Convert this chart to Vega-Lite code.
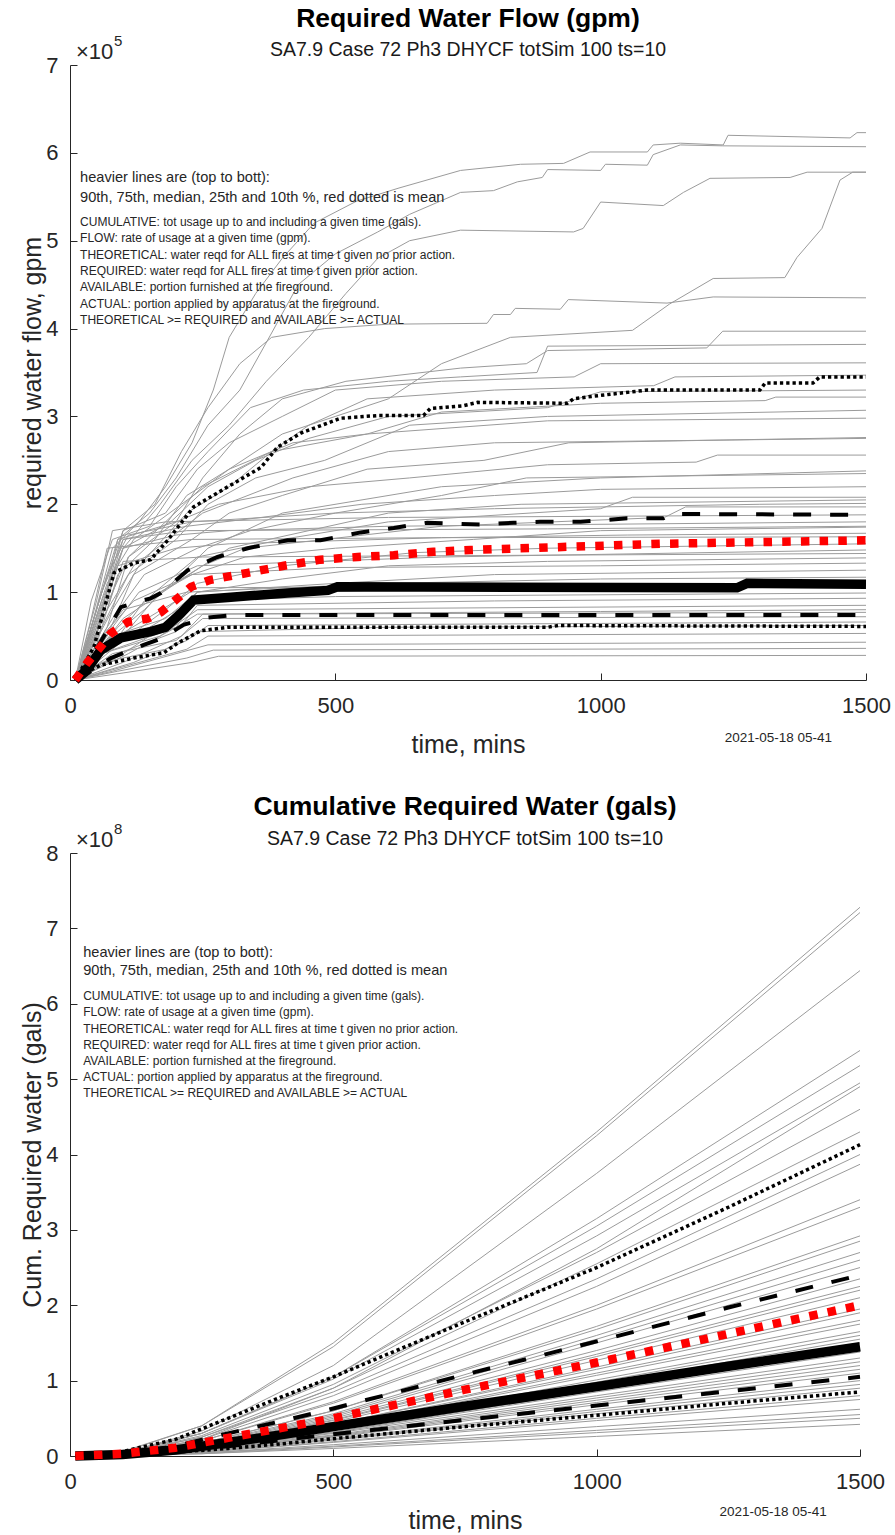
{
"$schema": "https://vega.github.io/schema/vega-lite/v6.json",
"autosize": {"type": "pad"},
"padding": {"left": 20, "top": 6, "right": 0, "bottom": 0},
"background": "white",
"bounds": "flush",
"spacing": 173,
"config": {
  "font": "Liberation Sans",
  "view": {"stroke": null},
  "axis": {"grid": false, "domainColor": "#262626", "tickColor": "#262626", "labelColor": "#262626", "titleColor": "#262626", "labelFont": "Liberation Sans", "titleFont": "Liberation Sans", "labelFontSize": 22, "titleFontSize": 25, "titleFontWeight": "normal", "tickSize": -7, "domainWidth": 1, "tickWidth": 1, "labelFlush": false, "labelOverlap": false},
  "axisX": {"labelPadding": 22, "titlePadding": 16},
  "axisY": {"labelPadding": 19, "titlePadding": 1, "minExtent": 24, "maxExtent": 24}
},
"datasets": {
"flowG": [
{"s":"A","t":10,"v":0},{"s":"A","t":40,"v":0.6e5},{"s":"A","t":80,"v":1.5e5},{"s":"A","t":130,"v":1.8e5},{"s":"A","t":180,"v":2.2e5},{"s":"A","t":230,"v":2.7e5},{"s":"A","t":270,"v":3.3e5},{"s":"A","t":300,"v":3.9e5},{"s":"A","t":350,"v":4.4e5},{"s":"A","t":400,"v":4.8e5},{"s":"A","t":460,"v":5.2e5},{"s":"A","t":540,"v":5.45e5},{"s":"A","t":620,"v":5.6e5},{"s":"A","t":736,"v":5.8e5},{"s":"A","t":849,"v":5.87e5},{"s":"A","t":930,"v":5.88e5},{"s":"A","t":980,"v":6.01e5},{"s":"A","t":1088,"v":6.01e5},{"s":"A","t":1099,"v":6.09e5},{"s":"A","t":1150,"v":6.11e5},{"s":"A","t":1231,"v":6.09e5},{"s":"A","t":1240,"v":6.2e5},{"s":"A","t":1470,"v":6.17e5},{"s":"A","t":1483,"v":6.23e5},{"s":"A","t":1500,"v":6.23e5},
{"s":"B","t":10,"v":0},{"s":"B","t":50,"v":0.5e5},{"s":"B","t":90,"v":1.6e5},{"s":"B","t":150,"v":1.9e5},{"s":"B","t":200,"v":2.3e5},{"s":"B","t":260,"v":2.9e5},{"s":"B","t":320,"v":3.3e5},{"s":"B","t":380,"v":3.95e5},{"s":"B","t":430,"v":4.5e5},{"s":"B","t":500,"v":4.85e5},{"s":"B","t":580,"v":5.1e5},{"s":"B","t":640,"v":5.3e5},{"s":"B","t":736,"v":5.55e5},{"s":"B","t":798,"v":5.57e5},{"s":"B","t":843,"v":5.67e5},{"s":"B","t":890,"v":5.72e5},{"s":"B","t":900,"v":5.81e5},{"s":"B","t":1000,"v":5.8e5},{"s":"B","t":1009,"v":5.87e5},{"s":"B","t":1088,"v":5.86e5},{"s":"B","t":1099,"v":5.98e5},{"s":"B","t":1150,"v":6.09e5},{"s":"B","t":1230,"v":6.08e5},{"s":"B","t":1500,"v":6.07e5},
{"s":"C","t":10,"v":0},{"s":"C","t":60,"v":0.7e5},{"s":"C","t":100,"v":1.5e5},{"s":"C","t":170,"v":2.0e5},{"s":"C","t":230,"v":2.5e5},{"s":"C","t":300,"v":2.9e5},{"s":"C","t":370,"v":3.4e5},{"s":"C","t":450,"v":3.9e5},{"s":"C","t":520,"v":4.4e5},{"s":"C","t":580,"v":4.8e5},{"s":"C","t":640,"v":5.0e5},{"s":"C","t":736,"v":5.12e5},{"s":"C","t":949,"v":5.1e5},{"s":"C","t":967,"v":5.14e5},{"s":"C","t":1000,"v":5.44e5},{"s":"C","t":1118,"v":5.4e5},{"s":"C","t":1156,"v":5.55e5},{"s":"C","t":1206,"v":5.71e5},{"s":"C","t":1357,"v":5.72e5},{"s":"C","t":1389,"v":5.78e5},{"s":"C","t":1500,"v":5.78e5},
{"s":"E","t":10,"v":0},{"s":"E","t":50,"v":0.4e5},{"s":"E","t":90,"v":1.2e5},{"s":"E","t":160,"v":1.6e5},{"s":"E","t":220,"v":2.1e5},{"s":"E","t":300,"v":2.4e5},{"s":"E","t":400,"v":2.8e5},{"s":"E","t":500,"v":3.0e5},{"s":"E","t":600,"v":3.2e5},{"s":"E","t":700,"v":3.6e5},{"s":"E","t":830,"v":3.9e5},{"s":"E","t":1060,"v":3.98e5},{"s":"E","t":1130,"v":4.28e5},{"s":"E","t":1212,"v":4.57e5},{"s":"E","t":1347,"v":4.58e5},{"s":"E","t":1370,"v":4.81e5},{"s":"E","t":1417,"v":5.14e5},{"s":"E","t":1451,"v":5.69e5},{"s":"E","t":1475,"v":5.78e5},{"s":"E","t":1500,"v":5.78e5},
{"s":"D","t":10,"v":0},{"s":"D","t":60,"v":0.8e5},{"s":"D","t":100,"v":1.7e5},{"s":"D","t":160,"v":2.0e5},{"s":"D","t":210,"v":2.6e5},{"s":"D","t":260,"v":3.1e5},{"s":"D","t":320,"v":3.6e5},{"s":"D","t":380,"v":3.9e5},{"s":"D","t":480,"v":4.0e5},{"s":"D","t":600,"v":4.05e5},{"s":"D","t":786,"v":4.06e5},{"s":"D","t":798,"v":4.16e5},{"s":"D","t":830,"v":4.16e5},{"s":"D","t":839,"v":4.23e5},{"s":"D","t":924,"v":4.22e5},{"s":"D","t":939,"v":4.33e5},{"s":"D","t":1125,"v":4.29e5},{"s":"D","t":1212,"v":4.36e5},{"s":"D","t":1500,"v":4.35e5},
{"s":"F","t":10,"v":0},{"s":"F","t":70,"v":0.6e5},{"s":"F","t":110,"v":1.4e5},{"s":"F","t":200,"v":1.8e5},{"s":"F","t":250,"v":2.3e5},{"s":"F","t":320,"v":2.8e5},{"s":"F","t":400,"v":3.2e5},{"s":"F","t":520,"v":3.4e5},{"s":"F","t":736,"v":3.55e5},{"s":"F","t":860,"v":3.6e5},{"s":"F","t":900,"v":3.75e5},{"s":"F","t":1200,"v":3.78e5},{"s":"F","t":1230,"v":3.97e5},{"s":"F","t":1500,"v":3.97e5},
{"s":"G","t":10,"v":0},{"s":"G","t":40,"v":0.9e5},{"s":"G","t":80,"v":1.6e5},{"s":"G","t":150,"v":1.75e5},{"s":"G","t":200,"v":2.2e5},{"s":"G","t":260,"v":2.6e5},{"s":"G","t":340,"v":3.1e5},{"s":"G","t":440,"v":3.3e5},{"s":"G","t":600,"v":3.4e5},{"s":"G","t":736,"v":3.45e5},{"s":"G","t":880,"v":3.5e5},{"s":"G","t":900,"v":3.8e5},{"s":"G","t":1500,"v":3.82e5},
{"s":"H","t":10,"v":0},{"s":"H","t":60,"v":1.0e5},{"s":"H","t":100,"v":1.7e5},{"s":"H","t":180,"v":1.9e5},{"s":"H","t":240,"v":2.4e5},{"s":"H","t":300,"v":2.7e5},{"s":"H","t":400,"v":3.0e5},{"s":"H","t":500,"v":3.3e5},{"s":"H","t":700,"v":3.4e5},{"s":"H","t":950,"v":3.45e5},{"s":"H","t":1000,"v":3.6e5},{"s":"H","t":1500,"v":3.61e5},
{"s":"I","t":10,"v":0},{"s":"I","t":80,"v":0.8e5},{"s":"I","t":130,"v":1.3e5},{"s":"I","t":220,"v":1.9e5},{"s":"I","t":300,"v":2.2e5},{"s":"I","t":380,"v":2.6e5},{"s":"I","t":450,"v":2.9e5},{"s":"I","t":560,"v":3.2e5},{"s":"I","t":800,"v":3.3e5},{"s":"I","t":1100,"v":3.35e5},{"s":"I","t":1140,"v":3.45e5},{"s":"I","t":1500,"v":3.47e5},
{"s":"J","t":10,"v":0},{"s":"J","t":50,"v":0.7e5},{"s":"J","t":100,"v":1.5e5},{"s":"J","t":190,"v":1.8e5},{"s":"J","t":260,"v":2.2e5},{"s":"J","t":350,"v":2.5e5},{"s":"J","t":450,"v":2.75e5},{"s":"J","t":600,"v":3.0e5},{"s":"J","t":900,"v":3.1e5},{"s":"J","t":1000,"v":3.28e5},{"s":"J","t":1500,"v":3.3e5},
{"s":"K","t":10,"v":0},{"s":"K","t":70,"v":1.1e5},{"s":"K","t":120,"v":1.6e5},{"s":"K","t":210,"v":2.0e5},{"s":"K","t":300,"v":2.4e5},{"s":"K","t":420,"v":2.7e5},{"s":"K","t":560,"v":2.8e5},{"s":"K","t":700,"v":3.05e5},{"s":"K","t":1000,"v":3.15e5},{"s":"K","t":1310,"v":3.18e5},{"s":"K","t":1330,"v":3.22e5},{"s":"K","t":1500,"v":3.22e5},
{"s":"L","t":10,"v":0},{"s":"L","t":60,"v":0.6e5},{"s":"L","t":110,"v":1.2e5},{"s":"L","t":200,"v":1.6e5},{"s":"L","t":260,"v":2.0e5},{"s":"L","t":350,"v":2.3e5},{"s":"L","t":480,"v":2.5e5},{"s":"L","t":640,"v":2.9e5},{"s":"L","t":900,"v":3.0e5},{"s":"L","t":1500,"v":3.07e5},
{"s":"M","t":10,"v":0},{"s":"M","t":70,"v":0.5e5},{"s":"M","t":120,"v":1.2e5},{"s":"M","t":230,"v":1.6e5},{"s":"M","t":300,"v":1.9e5},{"s":"M","t":400,"v":2.1e5},{"s":"M","t":560,"v":2.4e5},{"s":"M","t":780,"v":2.5e5},{"s":"M","t":940,"v":2.7e5},{"s":"M","t":1500,"v":2.76e5},
{"s":"N","t":10,"v":0},{"s":"N","t":50,"v":0.8e5},{"s":"N","t":90,"v":1.6e5},{"s":"N","t":200,"v":1.8e5},{"s":"N","t":280,"v":2.0e5},{"s":"N","t":450,"v":2.2e5},{"s":"N","t":640,"v":2.3e5},{"s":"N","t":900,"v":2.45e5},{"s":"N","t":1180,"v":2.48e5},{"s":"N","t":1220,"v":2.56e5},{"s":"N","t":1500,"v":2.56e5},
{"s":"O","t":10,"v":0},{"s":"O","t":80,"v":0.7e5},{"s":"O","t":140,"v":1.2e5},{"s":"O","t":240,"v":1.5e5},{"s":"O","t":340,"v":1.7e5},{"s":"O","t":500,"v":1.9e5},{"s":"O","t":700,"v":2.1e5},{"s":"O","t":860,"v":2.3e5},{"s":"O","t":1500,"v":2.35e5},
{"s":"P","t":10,"v":0},{"s":"P","t":60,"v":1.0e5},{"s":"P","t":100,"v":1.6e5},{"s":"P","t":220,"v":1.75e5},{"s":"P","t":360,"v":1.85e5},{"s":"P","t":550,"v":2.0e5},{"s":"P","t":800,"v":2.1e5},{"s":"P","t":1000,"v":2.17e5},{"s":"P","t":1500,"v":2.2e5},
{"s":"Q","t":10,"v":0},{"s":"Q","t":90,"v":0.6e5},{"s":"Q","t":160,"v":1.0e5},{"s":"Q","t":240,"v":1.4e5},{"s":"Q","t":400,"v":1.6e5},{"s":"Q","t":600,"v":1.8e5},{"s":"Q","t":1000,"v":1.95e5},{"s":"Q","t":1060,"v":2.08e5},{"s":"Q","t":1500,"v":2.08e5},
{"s":"R","t":10,"v":0},{"s":"R","t":70,"v":1.2e5},{"s":"R","t":110,"v":1.65e5},{"s":"R","t":230,"v":1.8e5},{"s":"R","t":500,"v":1.9e5},{"s":"R","t":800,"v":1.95e5},{"s":"R","t":1300,"v":2.0e5},{"s":"R","t":1500,"v":2.01e5},
{"s":"S","t":10,"v":0},{"s":"S","t":100,"v":0.5e5},{"s":"S","t":170,"v":1.0e5},{"s":"S","t":250,"v":1.3e5},{"s":"S","t":330,"v":1.5e5},{"s":"S","t":480,"v":1.6e5},{"s":"S","t":700,"v":1.75e5},{"s":"S","t":1120,"v":1.85e5},{"s":"S","t":1160,"v":1.97e5},{"s":"S","t":1500,"v":1.97e5},
{"s":"T","t":10,"v":0},{"s":"T","t":60,"v":0.9e5},{"s":"T","t":100,"v":1.5e5},{"s":"T","t":200,"v":1.65e5},{"s":"T","t":300,"v":1.7e5},{"s":"T","t":600,"v":1.75e5},{"s":"T","t":1500,"v":1.8e5},
{"s":"U","t":10,"v":0},{"s":"U","t":80,"v":0.4e5},{"s":"U","t":140,"v":0.9e5},{"s":"U","t":230,"v":1.2e5},{"s":"U","t":330,"v":1.4e5},{"s":"U","t":500,"v":1.5e5},{"s":"U","t":760,"v":1.6e5},{"s":"U","t":1000,"v":1.7e5},{"s":"U","t":1500,"v":1.74e5},
{"s":"V","t":10,"v":0},{"s":"V","t":50,"v":0.6e5},{"s":"V","t":90,"v":1.3e5},{"s":"V","t":200,"v":1.5e5},{"s":"V","t":300,"v":1.55e5},{"s":"V","t":700,"v":1.62e5},{"s":"V","t":1050,"v":1.65e5},{"s":"V","t":1500,"v":1.67e5},
{"s":"W","t":10,"v":0},{"s":"W","t":90,"v":0.4e5},{"s":"W","t":180,"v":0.8e5},{"s":"W","t":240,"v":1.1e5},{"s":"W","t":400,"v":1.3e5},{"s":"W","t":650,"v":1.45e5},{"s":"W","t":900,"v":1.5e5},{"s":"W","t":1500,"v":1.55e5},
{"s":"X","t":10,"v":0},{"s":"X","t":70,"v":0.8e5},{"s":"X","t":100,"v":1.35e5},{"s":"X","t":250,"v":1.4e5},{"s":"X","t":1500,"v":1.44e5},
{"s":"Y","t":10,"v":0},{"s":"Y","t":100,"v":0.3e5},{"s":"Y","t":200,"v":0.7e5},{"s":"Y","t":240,"v":1.0e5},{"s":"Y","t":400,"v":1.15e5},{"s":"Y","t":600,"v":1.3e5},{"s":"Y","t":900,"v":1.35e5},{"s":"Y","t":1500,"v":1.39e5},
{"s":"Z","t":10,"v":0},{"s":"Z","t":60,"v":0.5e5},{"s":"Z","t":120,"v":0.9e5},{"s":"Z","t":230,"v":1.2e5},{"s":"Z","t":500,"v":1.28e5},{"s":"Z","t":1000,"v":1.3e5},{"s":"Z","t":1500,"v":1.33e5},
{"s":"AA","t":10,"v":0},{"s":"AA","t":80,"v":0.5e5},{"s":"AA","t":180,"v":0.7e5},{"s":"AA","t":240,"v":1.0e5},{"s":"AA","t":500,"v":1.1e5},{"s":"AA","t":800,"v":1.2e5},{"s":"AA","t":1500,"v":1.25e5},
{"s":"AB","t":10,"v":0},{"s":"AB","t":50,"v":0.4e5},{"s":"AB","t":100,"v":0.8e5},{"s":"AB","t":220,"v":1.0e5},{"s":"AB","t":600,"v":1.1e5},{"s":"AB","t":1000,"v":1.15e5},{"s":"AB","t":1500,"v":1.17e5},
{"s":"AC","t":10,"v":0},{"s":"AC","t":110,"v":0.3e5},{"s":"AC","t":200,"v":0.6e5},{"s":"AC","t":240,"v":0.95e5},{"s":"AC","t":700,"v":1.05e5},{"s":"AC","t":1500,"v":1.1e5},
{"s":"AD","t":10,"v":0},{"s":"AD","t":70,"v":0.4e5},{"s":"AD","t":150,"v":0.6e5},{"s":"AD","t":230,"v":0.9e5},{"s":"AD","t":500,"v":0.95e5},{"s":"AD","t":1500,"v":0.99e5},
{"s":"AE","t":10,"v":0},{"s":"AE","t":90,"v":0.3e5},{"s":"AE","t":200,"v":0.55e5},{"s":"AE","t":240,"v":0.85e5},{"s":"AE","t":800,"v":0.9e5},{"s":"AE","t":1500,"v":0.93e5},
{"s":"AF","t":10,"v":0},{"s":"AF","t":60,"v":0.3e5},{"s":"AF","t":170,"v":0.5e5},{"s":"AF","t":240,"v":0.8e5},{"s":"AF","t":1500,"v":0.85e5},
{"s":"AG","t":10,"v":0},{"s":"AG","t":100,"v":0.2e5},{"s":"AG","t":210,"v":0.5e5},{"s":"AG","t":250,"v":0.75e5},{"s":"AG","t":1000,"v":0.78e5},{"s":"AG","t":1500,"v":0.8e5},
{"s":"AH","t":10,"v":0},{"s":"AH","t":80,"v":0.3e5},{"s":"AH","t":200,"v":0.45e5},{"s":"AH","t":250,"v":0.7e5},{"s":"AH","t":1500,"v":0.72e5},
{"s":"AI","t":10,"v":0},{"s":"AI","t":120,"v":0.2e5},{"s":"AI","t":220,"v":0.45e5},{"s":"AI","t":260,"v":0.62e5},{"s":"AI","t":1500,"v":0.66e5},
{"s":"AJ","t":10,"v":0},{"s":"AJ","t":60,"v":0.2e5},{"s":"AJ","t":180,"v":0.35e5},{"s":"AJ","t":240,"v":0.55e5},{"s":"AJ","t":600,"v":0.6e5},{"s":"AJ","t":1500,"v":0.62e5},
{"s":"AK","t":10,"v":0},{"s":"AK","t":100,"v":0.15e5},{"s":"AK","t":220,"v":0.35e5},{"s":"AK","t":260,"v":0.5e5},{"s":"AK","t":1500,"v":0.53e5},
{"s":"AL","t":10,"v":0},{"s":"AL","t":80,"v":0.1e5},{"s":"AL","t":200,"v":0.3e5},{"s":"AL","t":260,"v":0.4e5},{"s":"AL","t":1500,"v":0.43e5},
{"s":"AM","t":10,"v":0},{"s":"AM","t":90,"v":0.1e5},{"s":"AM","t":220,"v":0.25e5},{"s":"AM","t":270,"v":0.34e5},{"s":"AM","t":1500,"v":0.36e5},
{"s":"AN","t":10,"v":0},{"s":"AN","t":100,"v":0.08e5},{"s":"AN","t":230,"v":0.2e5},{"s":"AN","t":280,"v":0.27e5},{"s":"AN","t":1500,"v":0.28e5},
{"s":"AO","t":10,"v":0},{"s":"AO","t":50,"v":0.9e5},{"s":"AO","t":80,"v":1.7e5},{"s":"AO","t":180,"v":1.8e5},{"s":"AO","t":600,"v":1.85e5},{"s":"AO","t":1500,"v":1.88e5},
{"s":"AP","t":10,"v":0},{"s":"AP","t":70,"v":1.0e5},{"s":"AP","t":100,"v":1.6e5},{"s":"AP","t":220,"v":1.7e5},{"s":"AP","t":900,"v":1.72e5},{"s":"AP","t":1500,"v":1.75e5},
{"s":"AQ","t":10,"v":0},{"s":"AQ","t":90,"v":0.5e5},{"s":"AQ","t":200,"v":0.9e5},{"s":"AQ","t":240,"v":1.05e5},{"s":"AQ","t":1500,"v":1.08e5},
{"s":"AR","t":10,"v":0},{"s":"AR","t":60,"v":0.3e5},{"s":"AR","t":200,"v":0.6e5},{"s":"AR","t":240,"v":0.75e5},{"s":"AR","t":1500,"v":0.77e5},
{"s":"AS","t":10,"v":0},{"s":"AS","t":40,"v":0.7e5},{"s":"AS","t":70,"v":1.5e5},{"s":"AS","t":230,"v":1.6e5},{"s":"AS","t":700,"v":1.62e5},{"s":"AS","t":1500,"v":1.63e5},
{"s":"AT","t":10,"v":0},{"s":"AT","t":80,"v":0.6e5},{"s":"AT","t":130,"v":1.0e5},{"s":"AT","t":240,"v":1.3e5},{"s":"AT","t":700,"v":1.4e5},{"s":"AT","t":1500,"v":1.48e5},
{"s":"AU","t":10,"v":0},{"s":"AU","t":100,"v":0.7e5},{"s":"AU","t":200,"v":1.1e5},{"s":"AU","t":300,"v":1.5e5},{"s":"AU","t":600,"v":1.9e5},{"s":"AU","t":850,"v":2.0e5},{"s":"AU","t":1500,"v":2.05e5},
{"s":"AV","t":10,"v":0},{"s":"AV","t":60,"v":0.4e5},{"s":"AV","t":140,"v":0.8e5},{"s":"AV","t":260,"v":1.5e5},{"s":"AV","t":400,"v":1.9e5},{"s":"AV","t":700,"v":2.2e5},{"s":"AV","t":1000,"v":2.3e5},{"s":"AV","t":1500,"v":2.38e5},
{"s":"AW","t":10,"v":0},{"s":"AW","t":70,"v":0.8e5},{"s":"AW","t":120,"v":1.3e5},{"s":"AW","t":250,"v":1.9e5},{"s":"AW","t":420,"v":2.3e5},{"s":"AW","t":600,"v":2.6e5},{"s":"AW","t":800,"v":2.7e5},{"s":"AW","t":1500,"v":2.75e5},
{"s":"AX","t":10,"v":0},{"s":"AX","t":50,"v":0.6e5},{"s":"AX","t":110,"v":1.4e5},{"s":"AX","t":250,"v":2.2e5},{"s":"AX","t":380,"v":2.6e5},{"s":"AX","t":560,"v":2.8e5},{"s":"AX","t":900,"v":2.95e5},{"s":"AX","t":1500,"v":2.98e5}
],
"flowP": [
{"k":"p90","t":10,"v":0},{"k":"p90","t":45,"v":0.375e5},{"k":"p90","t":83,"v":1.22e5},{"k":"p90","t":120,"v":1.33e5},{"k":"p90","t":152,"v":1.37e5},{"k":"p90","t":184,"v":1.59e5},{"k":"p90","t":233,"v":1.97e5},{"k":"p90","t":309,"v":2.24e5},{"k":"p90","t":360,"v":2.42e5},{"k":"p90","t":391,"v":2.65e5},{"k":"p90","t":435,"v":2.81e5},{"k":"p90","t":510,"v":2.98e5},{"k":"p90","t":580,"v":3.01e5},{"k":"p90","t":666,"v":3.01e5},{"k":"p90","t":679,"v":3.09e5},{"k":"p90","t":740,"v":3.12e5},{"k":"p90","t":768,"v":3.16e5},{"k":"p90","t":937,"v":3.15e5},{"k":"p90","t":949,"v":3.2e5},{"k":"p90","t":986,"v":3.23e5},{"k":"p90","t":1088,"v":3.3e5},{"k":"p90","t":1300,"v":3.3e5},{"k":"p90","t":1310,"v":3.38e5},{"k":"p90","t":1400,"v":3.38e5},{"k":"p90","t":1413,"v":3.45e5},{"k":"p90","t":1500,"v":3.45e5},
{"k":"p75","t":10,"v":0},{"k":"p75","t":40,"v":0.25e5},{"k":"p75","t":96,"v":0.83e5},{"k":"p75","t":152,"v":0.93e5},{"k":"p75","t":171,"v":0.99e5},{"k":"p75","t":222,"v":1.25e5},{"k":"p75","t":278,"v":1.4e5},{"k":"p75","t":335,"v":1.5e5},{"k":"p75","t":410,"v":1.59e5},{"k":"p75","t":472,"v":1.59e5},{"k":"p75","t":548,"v":1.68e5},{"k":"p75","t":610,"v":1.73e5},{"k":"p75","t":673,"v":1.79e5},{"k":"p75","t":773,"v":1.77e5},{"k":"p75","t":836,"v":1.79e5},{"k":"p75","t":886,"v":1.8e5},{"k":"p75","t":962,"v":1.8e5},{"k":"p75","t":1050,"v":1.84e5},{"k":"p75","t":1118,"v":1.84e5},{"k":"p75","t":1131,"v":1.89e5},{"k":"p75","t":1500,"v":1.88e5},
{"k":"med","t":10,"v":0},{"k":"med","t":30,"v":0.1e5},{"k":"med","t":58,"v":0.34e5},{"k":"med","t":96,"v":0.48e5},{"k":"med","t":152,"v":0.55e5},{"k":"med","t":180,"v":0.6e5},{"k":"med","t":209,"v":0.76e5},{"k":"med","t":233,"v":0.91e5},{"k":"med","t":297,"v":0.94e5},{"k":"med","t":410,"v":0.99e5},{"k":"med","t":486,"v":1.02e5},{"k":"med","t":504,"v":1.06e5},{"k":"med","t":1257,"v":1.05e5},{"k":"med","t":1276,"v":1.1e5},{"k":"med","t":1500,"v":1.09e5},
{"k":"p25","t":10,"v":0},{"k":"p25","t":40,"v":0.1e5},{"k":"p25","t":77,"v":0.25e5},{"k":"p25","t":139,"v":0.4e5},{"k":"p25","t":171,"v":0.47e5},{"k":"p25","t":215,"v":0.63e5},{"k":"p25","t":260,"v":0.71e5},{"k":"p25","t":309,"v":0.74e5},{"k":"p25","t":1500,"v":0.74e5},
{"k":"p10","t":10,"v":0},{"k":"p10","t":21,"v":0.06e5},{"k":"p10","t":58,"v":0.17e5},{"k":"p10","t":120,"v":0.25e5},{"k":"p10","t":177,"v":0.31e5},{"k":"p10","t":203,"v":0.42e5},{"k":"p10","t":246,"v":0.56e5},{"k":"p10","t":297,"v":0.6e5},{"k":"p10","t":900,"v":0.6e5},{"k":"p10","t":920,"v":0.62e5},{"k":"p10","t":1500,"v":0.61e5},
{"k":"mean","t":10,"v":0},{"k":"mean","t":33,"v":0.2e5},{"k":"mean","t":58,"v":0.38e5},{"k":"mean","t":77,"v":0.53e5},{"k":"mean","t":109,"v":0.66e5},{"k":"mean","t":147,"v":0.7e5},{"k":"mean","t":171,"v":0.77e5},{"k":"mean","t":203,"v":0.93e5},{"k":"mean","t":228,"v":1.06e5},{"k":"mean","t":265,"v":1.14e5},{"k":"mean","t":335,"v":1.22e5},{"k":"mean","t":403,"v":1.3e5},{"k":"mean","t":472,"v":1.37e5},{"k":"mean","t":542,"v":1.4e5},{"k":"mean","t":610,"v":1.42e5},{"k":"mean","t":685,"v":1.46e5},{"k":"mean","t":755,"v":1.48e5},{"k":"mean","t":1112,"v":1.55e5},{"k":"mean","t":1500,"v":1.59e5}
],
"cumG": [
{"s":"b1","t":10,"v":0},{"s":"b1","t":100,"v":0.06e8},{"s":"b1","t":250,"v":0.4e8},{"s":"b1","t":500,"v":1.5e8},{"s":"b1","t":1000,"v":4.3e8},{"s":"b1","t":1500,"v":7.28e8},
{"s":"b2","t":10,"v":0},{"s":"b2","t":100,"v":0.05e8},{"s":"b2","t":250,"v":0.4e8},{"s":"b2","t":500,"v":1.45e8},{"s":"b2","t":1000,"v":4.25e8},{"s":"b2","t":1500,"v":7.21e8},
{"s":"b3","t":10,"v":0},{"s":"b3","t":100,"v":0.04e8},{"s":"b3","t":250,"v":0.33e8},{"s":"b3","t":500,"v":1.2e8},{"s":"b3","t":1000,"v":3.75e8},{"s":"b3","t":1500,"v":6.44e8},
{"s":"b4","t":10,"v":0},{"s":"b4","t":100,"v":0.04e8},{"s":"b4","t":250,"v":0.3e8},{"s":"b4","t":500,"v":1.05e8},{"s":"b4","t":1000,"v":3.15e8},{"s":"b4","t":1500,"v":5.38e8},
{"s":"b5","t":10,"v":0},{"s":"b5","t":100,"v":0.03e8},{"s":"b5","t":250,"v":0.3e8},{"s":"b5","t":500,"v":1.05e8},{"s":"b5","t":1000,"v":3.05e8},{"s":"b5","t":1500,"v":5.18e8},
{"s":"b6","t":10,"v":0},{"s":"b6","t":100,"v":0.04e8},{"s":"b6","t":250,"v":0.3e8},{"s":"b6","t":500,"v":1.02e8},{"s":"b6","t":1000,"v":2.92e8},{"s":"b6","t":1500,"v":4.95e8},
{"s":"b7","t":10,"v":0},{"s":"b7","t":100,"v":0.02e8},{"s":"b7","t":250,"v":0.22e8},{"s":"b7","t":500,"v":0.9e8},{"s":"b7","t":1000,"v":2.75e8},{"s":"b7","t":1500,"v":4.9e8},
{"s":"b8","t":10,"v":0},{"s":"b8","t":100,"v":0.03e8},{"s":"b8","t":250,"v":0.27e8},{"s":"b8","t":500,"v":0.95e8},{"s":"b8","t":1000,"v":2.7e8},{"s":"b8","t":1500,"v":4.6e8},
{"s":"b9","t":10,"v":0},{"s":"b9","t":100,"v":0.03e8},{"s":"b9","t":250,"v":0.25e8},{"s":"b9","t":500,"v":0.9e8},{"s":"b9","t":1000,"v":2.55e8},{"s":"b9","t":1500,"v":4.3e8},
{"s":"b10","t":10,"v":0},{"s":"b10","t":100,"v":0.03e8},{"s":"b10","t":250,"v":0.25e8},{"s":"b10","t":500,"v":0.85e8},{"s":"b10","t":1000,"v":2.35e8},{"s":"b10","t":1500,"v":4.0e8},
{"s":"b11","t":10,"v":0},{"s":"b11","t":100,"v":0.03e8},{"s":"b11","t":250,"v":0.22e8},{"s":"b11","t":500,"v":0.8e8},{"s":"b11","t":1000,"v":2.25e8},{"s":"b11","t":1500,"v":3.87e8},
{"s":"b12","t":10,"v":0},{"s":"b12","t":100,"v":0.02e8},{"s":"b12","t":250,"v":0.2e8},{"s":"b12","t":500,"v":0.72e8},{"s":"b12","t":1000,"v":2.0e8},{"s":"b12","t":1500,"v":3.4e8},
{"s":"b13","t":10,"v":0},{"s":"b13","t":100,"v":0.03e8},{"s":"b13","t":250,"v":0.2e8},{"s":"b13","t":500,"v":0.7e8},{"s":"b13","t":1000,"v":1.95e8},{"s":"b13","t":1500,"v":3.3e8},
{"s":"b14","t":10,"v":0},{"s":"b14","t":100,"v":0.02e8},{"s":"b14","t":250,"v":0.17e8},{"s":"b14","t":500,"v":0.6e8},{"s":"b14","t":1000,"v":1.72e8},{"s":"b14","t":1500,"v":2.92e8},
{"s":"b15","t":10,"v":0},{"s":"b15","t":100,"v":0.02e8},{"s":"b15","t":250,"v":0.17e8},{"s":"b15","t":500,"v":0.6e8},{"s":"b15","t":1000,"v":1.68e8},{"s":"b15","t":1500,"v":2.85e8},
{"s":"b16","t":10,"v":0},{"s":"b16","t":100,"v":0.02e8},{"s":"b16","t":250,"v":0.16e8},{"s":"b16","t":500,"v":0.56e8},{"s":"b16","t":1000,"v":1.6e8},{"s":"b16","t":1500,"v":2.7e8},
{"s":"b17","t":10,"v":0},{"s":"b17","t":100,"v":0.02e8},{"s":"b17","t":250,"v":0.15e8},{"s":"b17","t":500,"v":0.54e8},{"s":"b17","t":1000,"v":1.55e8},{"s":"b17","t":1500,"v":2.6e8},
{"s":"b18","t":10,"v":0},{"s":"b18","t":100,"v":0.02e8},{"s":"b18","t":250,"v":0.14e8},{"s":"b18","t":500,"v":0.52e8},{"s":"b18","t":1000,"v":1.5e8},{"s":"b18","t":1500,"v":2.5e8},
{"s":"b19","t":10,"v":0},{"s":"b19","t":100,"v":0.02e8},{"s":"b19","t":250,"v":0.13e8},{"s":"b19","t":500,"v":0.5e8},{"s":"b19","t":1000,"v":1.4e8},{"s":"b19","t":1500,"v":2.35e8},
{"s":"b20","t":10,"v":0},{"s":"b20","t":100,"v":0.02e8},{"s":"b20","t":250,"v":0.13e8},{"s":"b20","t":500,"v":0.48e8},{"s":"b20","t":1000,"v":1.35e8},{"s":"b20","t":1500,"v":2.25e8},
{"s":"b21","t":10,"v":0},{"s":"b21","t":100,"v":0.02e8},{"s":"b21","t":250,"v":0.13e8},{"s":"b21","t":500,"v":0.47e8},{"s":"b21","t":1000,"v":1.32e8},{"s":"b21","t":1500,"v":2.2e8},
{"s":"b22","t":10,"v":0},{"s":"b22","t":100,"v":0.02e8},{"s":"b22","t":250,"v":0.12e8},{"s":"b22","t":500,"v":0.45e8},{"s":"b22","t":1000,"v":1.27e8},{"s":"b22","t":1500,"v":2.1e8},
{"s":"b23","t":10,"v":0},{"s":"b23","t":100,"v":0.02e8},{"s":"b23","t":250,"v":0.11e8},{"s":"b23","t":500,"v":0.42e8},{"s":"b23","t":1000,"v":1.18e8},{"s":"b23","t":1500,"v":1.95e8},
{"s":"b24","t":10,"v":0},{"s":"b24","t":100,"v":0.02e8},{"s":"b24","t":250,"v":0.12e8},{"s":"b24","t":500,"v":0.42e8},{"s":"b24","t":1000,"v":1.15e8},{"s":"b24","t":1500,"v":1.9e8},
{"s":"b25","t":10,"v":0},{"s":"b25","t":100,"v":0.02e8},{"s":"b25","t":250,"v":0.11e8},{"s":"b25","t":500,"v":0.4e8},{"s":"b25","t":1000,"v":1.1e8},{"s":"b25","t":1500,"v":1.8e8},
{"s":"b26","t":10,"v":0},{"s":"b26","t":100,"v":0.02e8},{"s":"b26","t":250,"v":0.11e8},{"s":"b26","t":500,"v":0.39e8},{"s":"b26","t":1000,"v":1.07e8},{"s":"b26","t":1500,"v":1.75e8},
{"s":"b27","t":10,"v":0},{"s":"b27","t":100,"v":0.02e8},{"s":"b27","t":250,"v":0.1e8},{"s":"b27","t":500,"v":0.37e8},{"s":"b27","t":1000,"v":1.01e8},{"s":"b27","t":1500,"v":1.65e8},
{"s":"b28","t":10,"v":0},{"s":"b28","t":100,"v":0.01e8},{"s":"b28","t":250,"v":0.1e8},{"s":"b28","t":500,"v":0.36e8},{"s":"b28","t":1000,"v":0.98e8},{"s":"b28","t":1500,"v":1.6e8},
{"s":"b29","t":10,"v":0},{"s":"b29","t":100,"v":0.02e8},{"s":"b29","t":250,"v":0.1e8},{"s":"b29","t":500,"v":0.35e8},{"s":"b29","t":1000,"v":0.95e8},{"s":"b29","t":1500,"v":1.55e8},
{"s":"b30","t":10,"v":0},{"s":"b30","t":100,"v":0.01e8},{"s":"b30","t":250,"v":0.09e8},{"s":"b30","t":500,"v":0.34e8},{"s":"b30","t":1000,"v":0.92e8},{"s":"b30","t":1500,"v":1.5e8},
{"s":"b31","t":10,"v":0},{"s":"b31","t":100,"v":0.01e8},{"s":"b31","t":250,"v":0.09e8},{"s":"b31","t":500,"v":0.32e8},{"s":"b31","t":1000,"v":0.87e8},{"s":"b31","t":1500,"v":1.42e8},
{"s":"b32","t":10,"v":0},{"s":"b32","t":100,"v":0.01e8},{"s":"b32","t":250,"v":0.09e8},{"s":"b32","t":500,"v":0.31e8},{"s":"b32","t":1000,"v":0.85e8},{"s":"b32","t":1500,"v":1.38e8},
{"s":"b33","t":10,"v":0},{"s":"b33","t":100,"v":0.01e8},{"s":"b33","t":250,"v":0.08e8},{"s":"b33","t":500,"v":0.3e8},{"s":"b33","t":1000,"v":0.8e8},{"s":"b33","t":1500,"v":1.3e8},
{"s":"b34","t":10,"v":0},{"s":"b34","t":100,"v":0.01e8},{"s":"b34","t":250,"v":0.08e8},{"s":"b34","t":500,"v":0.28e8},{"s":"b34","t":1000,"v":0.77e8},{"s":"b34","t":1500,"v":1.25e8},
{"s":"b35","t":10,"v":0},{"s":"b35","t":100,"v":0.01e8},{"s":"b35","t":250,"v":0.08e8},{"s":"b35","t":500,"v":0.27e8},{"s":"b35","t":1000,"v":0.74e8},{"s":"b35","t":1500,"v":1.2e8},
{"s":"b36","t":10,"v":0},{"s":"b36","t":100,"v":0.01e8},{"s":"b36","t":250,"v":0.07e8},{"s":"b36","t":500,"v":0.26e8},{"s":"b36","t":1000,"v":0.71e8},{"s":"b36","t":1500,"v":1.15e8},
{"s":"b37","t":10,"v":0},{"s":"b37","t":100,"v":0.01e8},{"s":"b37","t":250,"v":0.07e8},{"s":"b37","t":500,"v":0.25e8},{"s":"b37","t":1000,"v":0.68e8},{"s":"b37","t":1500,"v":1.1e8},
{"s":"b38","t":10,"v":0},{"s":"b38","t":100,"v":0.01e8},{"s":"b38","t":250,"v":0.06e8},{"s":"b38","t":500,"v":0.23e8},{"s":"b38","t":1000,"v":0.62e8},{"s":"b38","t":1500,"v":1.0e8},
{"s":"b39","t":10,"v":0},{"s":"b39","t":100,"v":0.01e8},{"s":"b39","t":250,"v":0.06e8},{"s":"b39","t":500,"v":0.22e8},{"s":"b39","t":1000,"v":0.59e8},{"s":"b39","t":1500,"v":0.95e8},
{"s":"b40","t":10,"v":0},{"s":"b40","t":100,"v":0.01e8},{"s":"b40","t":250,"v":0.06e8},{"s":"b40","t":500,"v":0.21e8},{"s":"b40","t":1000,"v":0.56e8},{"s":"b40","t":1500,"v":0.9e8},
{"s":"b41","t":10,"v":0},{"s":"b41","t":100,"v":0.01e8},{"s":"b41","t":250,"v":0.05e8},{"s":"b41","t":500,"v":0.19e8},{"s":"b41","t":1000,"v":0.5e8},{"s":"b41","t":1500,"v":0.8e8},
{"s":"b42","t":10,"v":0},{"s":"b42","t":100,"v":0.01e8},{"s":"b42","t":250,"v":0.05e8},{"s":"b42","t":500,"v":0.18e8},{"s":"b42","t":1000,"v":0.47e8},{"s":"b42","t":1500,"v":0.75e8},
{"s":"b43","t":10,"v":0},{"s":"b43","t":100,"v":0.01e8},{"s":"b43","t":250,"v":0.04e8},{"s":"b43","t":500,"v":0.15e8},{"s":"b43","t":1000,"v":0.39e8},{"s":"b43","t":1500,"v":0.62e8},
{"s":"b44","t":10,"v":0},{"s":"b44","t":100,"v":0.01e8},{"s":"b44","t":250,"v":0.04e8},{"s":"b44","t":500,"v":0.13e8},{"s":"b44","t":1000,"v":0.34e8},{"s":"b44","t":1500,"v":0.55e8},
{"s":"b45","t":10,"v":0},{"s":"b45","t":100,"v":0.005e8},{"s":"b45","t":250,"v":0.03e8},{"s":"b45","t":500,"v":0.12e8},{"s":"b45","t":1000,"v":0.31e8},{"s":"b45","t":1500,"v":0.5e8},
{"s":"b46","t":10,"v":0},{"s":"b46","t":100,"v":0.005e8},{"s":"b46","t":250,"v":0.03e8},{"s":"b46","t":500,"v":0.1e8},{"s":"b46","t":1000,"v":0.26e8},{"s":"b46","t":1500,"v":0.42e8}
],
"cumP": [
{"k":"p90","t":10,"v":0},{"k":"p90","t":100,"v":0.06e8},{"k":"p90","t":200,"v":0.22e8},{"k":"p90","t":300,"v":0.5e8},{"k":"p90","t":400,"v":0.78e8},{"k":"p90","t":500,"v":1.05e8},{"k":"p90","t":750,"v":1.78e8},{"k":"p90","t":1000,"v":2.5e8},{"k":"p90","t":1250,"v":3.3e8},{"k":"p90","t":1500,"v":4.13e8},
{"k":"p75","t":10,"v":0},{"k":"p75","t":100,"v":0.03e8},{"k":"p75","t":200,"v":0.13e8},{"k":"p75","t":300,"v":0.3e8},{"k":"p75","t":400,"v":0.46e8},{"k":"p75","t":500,"v":0.63e8},{"k":"p75","t":750,"v":1.08e8},{"k":"p75","t":1000,"v":1.52e8},{"k":"p75","t":1250,"v":1.97e8},{"k":"p75","t":1500,"v":2.4e8},
{"k":"med","t":10,"v":0},{"k":"med","t":100,"v":0.02e8},{"k":"med","t":200,"v":0.08e8},{"k":"med","t":300,"v":0.18e8},{"k":"med","t":400,"v":0.28e8},{"k":"med","t":500,"v":0.39e8},{"k":"med","t":750,"v":0.66e8},{"k":"med","t":1000,"v":0.92e8},{"k":"med","t":1250,"v":1.19e8},{"k":"med","t":1500,"v":1.45e8},
{"k":"p25","t":10,"v":0},{"k":"p25","t":100,"v":0.015e8},{"k":"p25","t":200,"v":0.06e8},{"k":"p25","t":300,"v":0.13e8},{"k":"p25","t":400,"v":0.21e8},{"k":"p25","t":500,"v":0.29e8},{"k":"p25","t":750,"v":0.48e8},{"k":"p25","t":1000,"v":0.67e8},{"k":"p25","t":1250,"v":0.86e8},{"k":"p25","t":1500,"v":1.05e8},
{"k":"p10","t":10,"v":0},{"k":"p10","t":100,"v":0.01e8},{"k":"p10","t":200,"v":0.05e8},{"k":"p10","t":300,"v":0.1e8},{"k":"p10","t":400,"v":0.16e8},{"k":"p10","t":500,"v":0.23e8},{"k":"p10","t":750,"v":0.39e8},{"k":"p10","t":1000,"v":0.54e8},{"k":"p10","t":1250,"v":0.7e8},{"k":"p10","t":1500,"v":0.85e8},
{"k":"mean","t":10,"v":0},{"k":"mean","t":100,"v":0.03e8},{"k":"mean","t":200,"v":0.11e8},{"k":"mean","t":300,"v":0.24e8},{"k":"mean","t":400,"v":0.37e8},{"k":"mean","t":500,"v":0.5e8},{"k":"mean","t":750,"v":0.88e8},{"k":"mean","t":1000,"v":1.24e8},{"k":"mean","t":1250,"v":1.62e8},{"k":"mean","t":1500,"v":2.0e8}
]
},
"vconcat": [
{
 "width": 796, "height": 615,
 "layer": [
  {
   "encoding": {
    "x": {"field": "t", "type": "quantitative", "scale": {"domain": [0, 1500], "nice": false, "zero": false}, "axis": {"values": [0, 500, 1000, 1500], "title": "time, mins", "format": "d"}},
    "y": {"field": "v", "type": "quantitative", "scale": {"domain": [0, 700000], "nice": false}, "axis": {"values": [0, 100000, 200000, 300000, 400000, 500000, 600000, 700000], "labelExpr": "format(datum.value/1e5, 'd')", "title": "required water flow, gpm"}}
   },
   "layer": [
    {"data": {"name": "flowG"}, "mark": {"type": "line", "color": "#9b9b9b", "strokeWidth": 1}, "encoding": {"detail": {"field": "s", "type": "nominal"}}},
    {"data": {"name": "flowP"}, "transform": [{"filter": "datum.k == 'p90'"}], "mark": {"type": "line", "color": "black", "strokeWidth": 3.5, "strokeDash": [3.3, 3]}},
    {"data": {"name": "flowP"}, "transform": [{"filter": "datum.k == 'p75'"}], "mark": {"type": "line", "color": "black", "strokeWidth": 4, "strokeDash": [18, 19]}},
    {"data": {"name": "flowP"}, "transform": [{"filter": "datum.k == 'med'"}], "mark": {"type": "line", "color": "black", "strokeWidth": 9.5}},
    {"data": {"name": "flowP"}, "transform": [{"filter": "datum.k == 'p25'"}], "mark": {"type": "line", "color": "black", "strokeWidth": 4, "strokeDash": [18, 19]}},
    {"data": {"name": "flowP"}, "transform": [{"filter": "datum.k == 'p10'"}], "mark": {"type": "line", "color": "black", "strokeWidth": 3.5, "strokeDash": [3.3, 3]}},
    {"data": {"name": "flowP"}, "transform": [{"filter": "datum.k == 'mean'"}], "mark": {"type": "line", "color": "#ff0000", "strokeWidth": 8.5, "strokeDash": [8.5, 10.2]}}
   ]
  },
  {"data": {"values": [{}]}, "mark": {"type": "text", "text": ["heavier lines are (top to bott):", "\u00a090th, 75th, median, 25th and 10th %, red dotted is mean"], "align": "left", "baseline": "middle", "fontSize": 14.6, "lineHeight": 20, "color": "#262626"}, "encoding": {"x": {"datum": 19}, "y": {"datum": 571400}}},
  {"data": {"values": [{}]}, "mark": {"type": "text", "text": ["CUMULATIVE: tot usage up to and including a given time (gals).", "FLOW: rate of usage at a given time (gpm).", "THEORETICAL: water reqd for ALL fires at time t given no prior action.", "REQUIRED: water reqd for ALL fires at time t given prior action.", "AVAILABLE: portion furnished at the fireground.", "ACTUAL: portion applied by apparatus at the fireground.", "THEORETICAL >= REQUIRED and AVAILABLE >= ACTUAL"], "align": "left", "baseline": "middle", "fontSize": 12, "lineHeight": 16.3, "color": "#262626"}, "encoding": {"x": {"datum": 19}, "y": {"datum": 521300}}},
  {"data": {"values": [{}]}, "mark": {"type": "text", "text": "Required Water Flow (gpm)", "align": "center", "baseline": "middle", "fontSize": 26.5, "fontWeight": "bold", "dy": -46, "color": "black"}, "encoding": {"x": {"datum": 750}, "y": {"datum": 700000}}},
  {"data": {"values": [{}]}, "mark": {"type": "text", "text": "SA7.9 Case 72 Ph3 DHYCF totSim 100 ts=10", "align": "center", "baseline": "middle", "fontSize": 19.5, "dy": -15, "color": "#1a1a1a"}, "encoding": {"x": {"datum": 750}, "y": {"datum": 700000}}},
  {"data": {"values": [{}]}, "mark": {"type": "text", "text": "\u00d710", "align": "left", "baseline": "middle", "fontSize": 22, "dx": 6, "dy": -13, "color": "#262626"}, "encoding": {"x": {"datum": 0}, "y": {"datum": 700000}}},
  {"data": {"values": [{}]}, "mark": {"type": "text", "text": "5", "align": "left", "baseline": "middle", "fontSize": 15, "dx": 44, "dy": -24, "color": "#262626"}, "encoding": {"x": {"datum": 0}, "y": {"datum": 700000}}},
  {"data": {"values": [{}]}, "mark": {"type": "text", "text": "2021-05-18 05-41", "align": "center", "baseline": "middle", "fontSize": 13.5, "dy": 58, "color": "#262626"}, "encoding": {"x": {"datum": 1335}, "y": {"datum": 0}}}
 ]
},
{
 "width": 790, "height": 603,
 "layer": [
  {
   "encoding": {
    "x": {"field": "t", "type": "quantitative", "scale": {"domain": [0, 1500], "nice": false, "zero": false}, "axis": {"values": [0, 500, 1000, 1500], "title": "time, mins", "format": "d"}},
    "y": {"field": "v", "type": "quantitative", "scale": {"domain": [0, 800000000], "nice": false}, "axis": {"values": [0, 100000000, 200000000, 300000000, 400000000, 500000000, 600000000, 700000000, 800000000], "labelExpr": "format(datum.value/1e8, 'd')", "title": "Cum. Required water (gals)"}}
   },
   "layer": [
    {"data": {"name": "cumG"}, "mark": {"type": "line", "color": "#9b9b9b", "strokeWidth": 1}, "encoding": {"detail": {"field": "s", "type": "nominal"}}},
    {"data": {"name": "cumP"}, "transform": [{"filter": "datum.k == 'p90'"}], "mark": {"type": "line", "color": "black", "strokeWidth": 3.5, "strokeDash": [3.3, 3]}},
    {"data": {"name": "cumP"}, "transform": [{"filter": "datum.k == 'p75'"}], "mark": {"type": "line", "color": "black", "strokeWidth": 4, "strokeDash": [18, 19]}},
    {"data": {"name": "cumP"}, "transform": [{"filter": "datum.k == 'med'"}], "mark": {"type": "line", "color": "black", "strokeWidth": 9.5}},
    {"data": {"name": "cumP"}, "transform": [{"filter": "datum.k == 'p25'"}], "mark": {"type": "line", "color": "black", "strokeWidth": 4, "strokeDash": [18, 19]}},
    {"data": {"name": "cumP"}, "transform": [{"filter": "datum.k == 'p10'"}], "mark": {"type": "line", "color": "black", "strokeWidth": 3.5, "strokeDash": [3.3, 3]}},
    {"data": {"name": "cumP"}, "transform": [{"filter": "datum.k == 'mean'"}], "mark": {"type": "line", "color": "#ff0000", "strokeWidth": 8.5, "strokeDash": [8.5, 10.2]}}
   ]
  },
  {"data": {"values": [{}]}, "mark": {"type": "text", "text": ["heavier lines are (top to bott):", "\u00a090th, 75th, median, 25th and 10th %, red dotted is mean"], "align": "left", "baseline": "middle", "fontSize": 14.6, "lineHeight": 18, "color": "#262626"}, "encoding": {"x": {"datum": 25}, "y": {"datum": 666700000}}},
  {"data": {"values": [{}]}, "mark": {"type": "text", "text": ["CUMULATIVE: tot usage up to and including a given time (gals).", "FLOW: rate of usage at a given time (gpm).", "THEORETICAL: water reqd for ALL fires at time t given no prior action.", "REQUIRED: water reqd for ALL fires at time t given prior action.", "AVAILABLE: portion furnished at the fireground.", "ACTUAL: portion applied by apparatus at the fireground.", "THEORETICAL >= REQUIRED and AVAILABLE >= ACTUAL"], "align": "left", "baseline": "middle", "fontSize": 12, "lineHeight": 16.2, "color": "#262626"}, "encoding": {"x": {"datum": 25}, "y": {"datum": 609900000}}},
  {"data": {"values": [{}]}, "mark": {"type": "text", "text": "Cumulative Required Water (gals)", "align": "center", "baseline": "middle", "fontSize": 26.5, "fontWeight": "bold", "dy": -46, "color": "black"}, "encoding": {"x": {"datum": 750}, "y": {"datum": 800000000}}},
  {"data": {"values": [{}]}, "mark": {"type": "text", "text": "SA7.9 Case 72 Ph3 DHYCF totSim 100 ts=10", "align": "center", "baseline": "middle", "fontSize": 19.5, "dy": -14, "color": "#1a1a1a"}, "encoding": {"x": {"datum": 750}, "y": {"datum": 800000000}}},
  {"data": {"values": [{}]}, "mark": {"type": "text", "text": "\u00d710", "align": "left", "baseline": "middle", "fontSize": 22, "dx": 6, "dy": -13, "color": "#262626"}, "encoding": {"x": {"datum": 0}, "y": {"datum": 800000000}}},
  {"data": {"values": [{}]}, "mark": {"type": "text", "text": "8", "align": "left", "baseline": "middle", "fontSize": 15, "dx": 44, "dy": -24, "color": "#262626"}, "encoding": {"x": {"datum": 0}, "y": {"datum": 800000000}}},
  {"data": {"values": [{}]}, "mark": {"type": "text", "text": "2021-05-18 05-41", "align": "center", "baseline": "middle", "fontSize": 13.5, "dy": 56, "color": "#262626"}, "encoding": {"x": {"datum": 1335}, "y": {"datum": 0}}}
 ]
}
]
}
